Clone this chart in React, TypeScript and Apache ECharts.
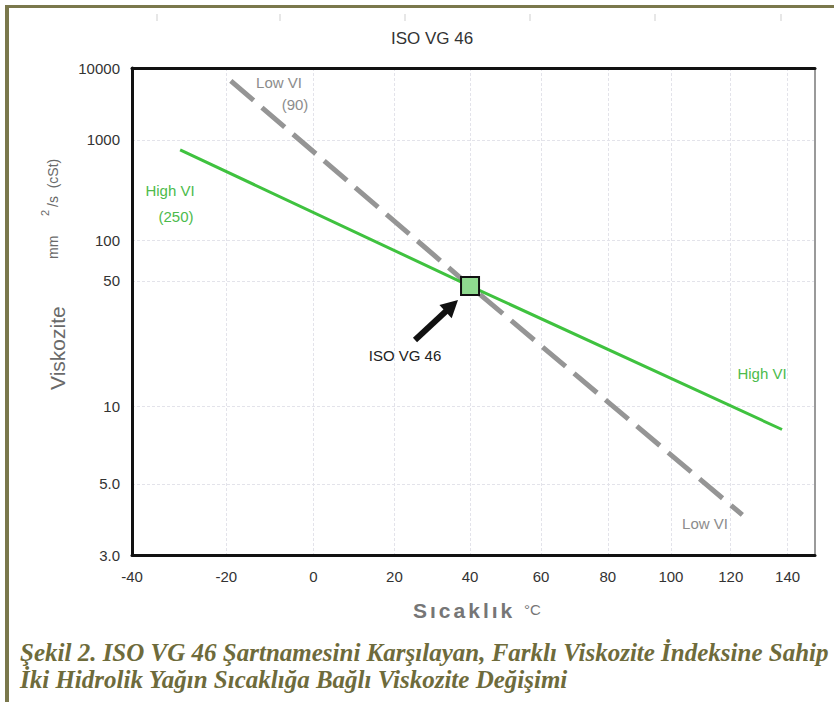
import React, { useEffect, useRef } from "react";
import * as echarts from "echarts";

// ---- data (temperature in °C, kinematic viscosity in mm²/s) ----
const xTickTemps = [-40, -20, 0, 20, 40, 60, 80, 100, 120, 140];
const yTickValues = [3, 5, 10, 50, 100, 1000, 10000];
const yTickLabels = ["3.0", "5.0", "10", "50", "100", "1000", "10000"];
const tempRange = [-40, 150];
const viscRange = [3, 10000];

const highVITemps = [-30, 40, 138];
const highVIVisc = [760, 46, 8];
const lowVITemps = [-19, 40, 124];
const lowVIVisc = [6300, 46, 3.95];
const isoTemps = [40];
const isoVisc = [46];

// ASTM D341 chart scales
const tx = (t: number) => Math.log10(t + 273.15);
const wy = (v: number) => Math.log10(Math.log10(v + 0.7));

const nearestIdx = (arr: number[], f: (n: number) => number, v: number) => {
  let best = 0;
  arr.forEach((a, i) => {
    if (Math.abs(f(a) - v) < Math.abs(f(arr[best]) - v)) best = i;
  });
  return best;
};

const FONT = "Arial, 'Liberation Sans', sans-serif";
const SERIF = "'Times New Roman', 'Liberation Serif', serif";

function spaced(s: string) {
  return s
    .split("")
    .map((c) => `{l|${c}}`)
    .join("");
}

export default function App() {
  const ref = useRef<HTMLDivElement>(null);
  useEffect(() => {
    if (!ref.current) return;
    const chart = echarts.init(ref.current, null, { renderer: "svg" });
    const xCustom = xTickTemps.map(tx);
    const yCustom = yTickValues.map(wy);
    const gridLine = { show: true, lineStyle: { color: "#e3e3ea", width: 1, type: [3, 2] as any } };

    const txt = (x: number, y: number, text: string, extra: any = {}, rot = 0) => ({
      type: "text",
      x,
      y,
      rotation: rot,
      z: 50,
      style: {
        text,
        fill: "#8c8c8c",
        fontSize: 15,
        fontFamily: FONT,
        align: "center",
        textAlign: "center",
        verticalAlign: "middle",
        textVerticalAlign: "middle",
        ...extra,
      },
    });

    // arrow geometry (annotation)
    const tail = [415, 340];
    const tip = [458, 300];
    const dx = tip[0] - tail[0];
    const dy = tip[1] - tail[1];
    const len = Math.hypot(dx, dy);
    const ux = dx / len, uy = dy / len;
    const nx = -uy, ny = ux;
    const hl = 17, hw = 9;
    const bx = tip[0] - ux * hl, by = tip[1] - uy * hl;

    const caption = {
      fill: "#6e6b3b",
      fontSize: 25,
      fontFamily: SERIF,
      fontWeight: "bold",
      fontStyle: "italic",
      align: "left",
      textAlign: "left",
    };

    chart.setOption({
      animation: false,
      backgroundColor: "#ffffff",
      grid: { left: 132, right: 19, top: 68, bottom: 147, containLabel: false },
      xAxis: [
        {
          type: "value",
          min: tx(tempRange[0]),
          max: tx(tempRange[1]),
          axisLine: { show: true, onZero: false, lineStyle: { color: "#111", width: 3 } },
          axisTick: { show: false, customValues: xCustom },
          axisLabel: {
            customValues: xCustom,
            formatter: (v: number) => String(xTickTemps[nearestIdx(xTickTemps, tx, v)]),
            color: "#333",
            fontSize: 15,
            fontFamily: FONT,
            margin: 14,
          },
          splitLine: gridLine,
        },
        {
          type: "value",
          position: "top",
          min: tx(tempRange[0]),
          max: tx(tempRange[1]),
          axisLine: { show: true, onZero: false, lineStyle: { color: "#111", width: 3 } },
          axisTick: { show: false },
          axisLabel: { show: false },
          splitLine: { show: false },
        },
      ],
      yAxis: [
        {
          type: "value",
          min: wy(viscRange[0]),
          max: wy(viscRange[1]),
          axisLine: { show: true, onZero: false, lineStyle: { color: "#111", width: 3 } },
          axisTick: { show: false, customValues: yCustom },
          axisLabel: {
            customValues: yCustom,
            formatter: (v: number) => yTickLabels[nearestIdx(yTickValues, wy, v)],
            color: "#333",
            fontSize: 15,
            fontFamily: FONT,
            margin: 12,
          },
          splitLine: gridLine,
        },
        {
          type: "value",
          position: "right",
          min: wy(viscRange[0]),
          max: wy(viscRange[1]),
          axisLine: { show: true, onZero: false, lineStyle: { color: "#9a9a9a", width: 2 } },
          axisTick: { show: false },
          axisLabel: { show: false },
          splitLine: { show: false },
        },
      ],
      series: [
        {
          type: "line",
          data: lowVITemps.map((t, i) => [tx(t), wy(lowVIVisc[i])]),
          symbol: "none",
          lineStyle: { color: "#959595", width: 5, type: [30, 11] as any, cap: "butt" },
          z: 2,
        },
        {
          type: "line",
          data: highVITemps.map((t, i) => [tx(t), wy(highVIVisc[i])]),
          symbol: "none",
          lineStyle: { color: "#3fc23f", width: 3 },
          z: 3,
        },
        {
          type: "scatter",
          data: isoTemps.map((t, i) => [tx(t), wy(isoVisc[i])]),
          symbol: "rect",
          symbolSize: 18,
          itemStyle: { color: "#8fda8f", borderColor: "#111", borderWidth: 2, opacity: 1 },
          z: 5,
        },
      ],
      graphic: [
        // frame
        { type: "rect", shape: { x: 5, y: 5, width: 829, height: 3 }, style: { fill: "#7a784c" } },
        { type: "rect", shape: { x: 5, y: 5, width: 4, height: 697 }, style: { fill: "#7a784c" } },
        // faint marks at top
        ...[157, 280, 405, 530, 655, 781].map((x) => ({
          type: "line",
          shape: { x1: x, y1: 14, x2: x, y2: 21 },
          style: { stroke: "#cfcfcf", lineWidth: 1 },
        })),
        // title
        txt(432, 38, "ISO VG 46", { fill: "#333", fontSize: 17 }),
        // axis titles
        txt(57, 390, "Viskozite", { fill: "#6a6a6a", fontSize: 21, align: "left", textAlign: "left" }, Math.PI / 2),
        txt(53, 259, "mm", { fill: "#6a6a6a", fontSize: 14, align: "left", textAlign: "left" }, Math.PI / 2),
        txt(45, 216, "2", { fill: "#6a6a6a", fontSize: 11, align: "left", textAlign: "left" }, Math.PI / 2),
        txt(53, 207, "/s  (cSt)", { fill: "#6a6a6a", fontSize: 14, align: "left", textAlign: "left" }, Math.PI / 2),
        txt(413, 610, spaced("Sıcaklık"), {
          fill: "#767676",
          fontSize: 21,
          fontWeight: "bold",
          align: "left",
          textAlign: "left",
          rich: { l: { fontSize: 21, fontWeight: "bold", fill: "#767676", color: "#767676", fontFamily: FONT, padding: [0, 3, 0, 0] } },
        }),
        txt(524, 609, "°C", { fill: "#767676", fontSize: 15, align: "left", textAlign: "left" }),
        // line labels
        txt(279, 82, "Low VI", {}),
        txt(295, 104, "(90)", {}),
        txt(170, 190, "High VI", { fill: "#4cbb4c" }),
        txt(176, 216, "(250)", { fill: "#4cbb4c" }),
        txt(762, 373, "High VI", { fill: "#4cbb4c" }),
        txt(705, 523, "Low VI", {}),
        txt(405, 355, "ISO VG 46", { fill: "#222" }),
        // arrow
        {
          type: "line",
          z: 50,
          shape: { x1: tail[0], y1: tail[1], x2: bx + ux * 2, y2: by + uy * 2 },
          style: { stroke: "#111", lineWidth: 6 },
        },
        {
          type: "polygon",
          z: 50,
          shape: {
            points: [
              [tip[0], tip[1]],
              [bx + nx * hw, by + ny * hw],
              [bx - nx * hw, by - ny * hw],
            ],
          },
          style: { fill: "#111" },
        },
        // caption
        txt(20, 652, "Şekil 2. ISO VG 46 Şartnamesini Karşılayan, Farklı Viskozite İndeksine Sahip", caption),
        txt(20, 679, "İki Hidrolik Yağın Sıcaklığa Bağlı Viskozite Değişimi", caption),
      ],
    });
    return () => chart.dispose();
  }, []);
  return (
    <div
      ref={ref}
      style={{ position: "absolute", left: 0, top: 0, width: 834, height: 702, background: "#fff" }}
    />
  );
}
